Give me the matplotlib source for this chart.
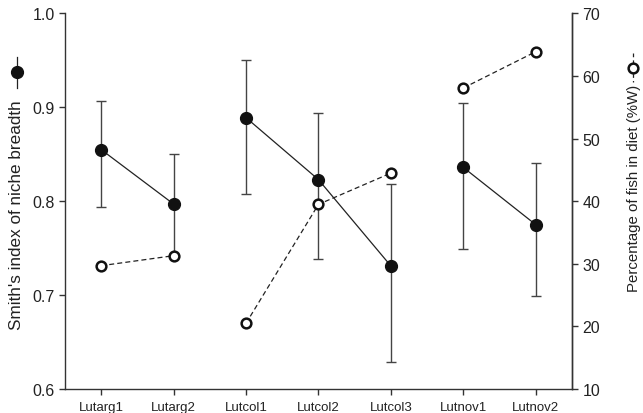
import numpy as np
import matplotlib.pyplot as plt
from matplotlib.lines import Line2D

plt.rcParams['font.family'] = ['Liberation Sans', 'DejaVu Sans']

groups = ['Lutarg1', 'Lutarg2', 'Lutcol1', 'Lutcol2', 'Lutcol3', 'Lutnov1', 'Lutnov2']
smith = [0.855, 0.797, 0.889, 0.823, 0.731, 0.836, 0.775]
smith_low = [0.794, 0.744, 0.808, 0.738, 0.629, 0.749, 0.699]
smith_high = [0.907, 0.850, 0.950, 0.894, 0.818, 0.905, 0.841]
fish_pct = [29.7, 31.3, 20.5, 39.5, 44.5, 58.1, 63.9]
species = [[0, 1], [2, 3, 4], [5, 6]]

x = np.arange(1, len(groups) + 1)
smith = np.array(smith)
yerr = np.array([smith - np.array(smith_low), np.array(smith_high) - smith])
fish_pct = np.array(fish_pct)

fig = plt.figure(figsize=(6.43, 4.14), dpi=100)
ax = fig.add_axes([0.101, 0.058, 0.7886, 0.907])
ax2 = ax.twinx()

dark = '#222222'
for idx in species:
    ax.errorbar(x[idx], smith[idx], yerr=yerr[:, idx], color=dark, lw=0.9,
                ecolor='#444444', elinewidth=1.0, capsize=3.5, capthick=1.0,
                marker='o', ms=8.5, mfc='#111111', mec='#111111')
    ax2.plot(x[idx], fish_pct[idx], color=dark, lw=0.9, ls=(0, (4, 2.5)),
             marker='o', ms=7, mfc='white', mec='#111111', mew=1.8)

ax.set_xlim(0.5, 7.5)
ax.set_ylim(0.6, 1.0)
ax.set_yticks([0.6, 0.7, 0.8, 0.9, 1.0])
ax.set_xticks(x)
ax.set_xticklabels(groups, fontsize=9.5)
ax2.set_ylim(10, 70)
ax2.set_yticks(range(10, 71, 10))

for a in (ax, ax2):
    a.spines['top'].set_visible(False)
    for s in a.spines.values():
        s.set_color('#333333')
        s.set_linewidth(1.0)
    a.tick_params(direction='out', length=4, width=1.0, color='#333333',
                  labelsize=11.5, labelcolor='#222222')
ax.tick_params(axis='x', labelsize=9.5, pad=5)
ax2.spines['left'].set_visible(False)
ax2.spines['bottom'].set_visible(False)

fig.text(17 / 643, 1 - 215 / 414, "Smith's index of niche breadth", rotation=90,
         ha='center', va='center', fontsize=12.3, color='#222222')
fig.text(634 / 643, 1 - 188 / 414, "Percentage of fish in diet (%W)", rotation=90,
         ha='center', va='center', fontsize=10.8, color='#222222')

# legend glyphs next to the axis titles
fig.add_artist(Line2D([17 / 643, 17 / 643], [1 - 58 / 414, 1 - 89 / 414],
                      transform=fig.transFigure, color=dark, lw=0.9))
fig.add_artist(Line2D([17 / 643], [1 - 73 / 414], transform=fig.transFigure,
                      marker='o', ms=8.5, mfc='#111111', mec='#111111', ls='none'))
fig.add_artist(Line2D([633 / 643, 633 / 643], [1 - 54 / 414, 1 - 83 / 414],
                      transform=fig.transFigure, color=dark, lw=0.9, ls=(0, (3, 2.5))))
fig.add_artist(Line2D([633 / 643], [1 - 69 / 414], transform=fig.transFigure,
                      marker='o', ms=7, mfc='white', mec='#111111', mew=1.8, ls='none'))

fig.savefig('out.png', dpi=100)
